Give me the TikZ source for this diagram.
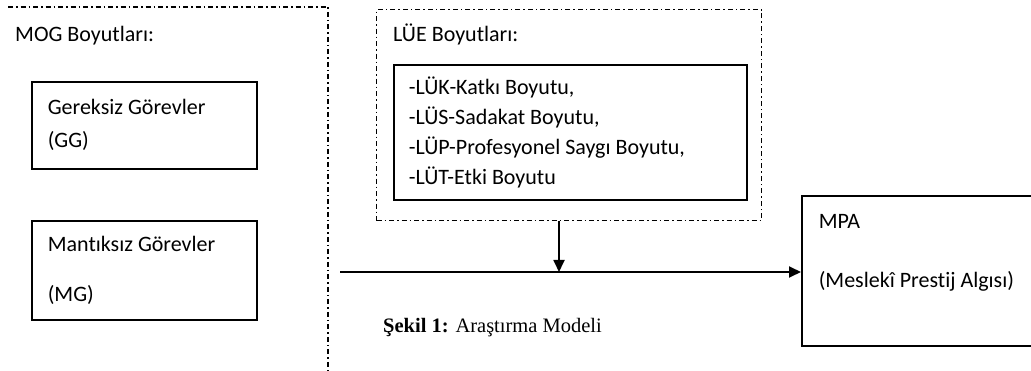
\documentclass[tikz,border=0pt]{standalone}
\usepackage{fontspec}
\setmainfont{Carlito}[Ligatures=NoCommon]
\newfontfamily\capfont{Liberation Serif}
\usetikzlibrary{arrows.meta}

\tikzset{
  kutu/.style={draw, line width=1.6pt, anchor=north west, align=left, inner xsep=16pt, inner ysep=0pt,
    execute at begin node={\spaceskip=0pt\xspaceskip=0pt\relax}},
  cerceve/.style={line width=1.3pt, dash pattern=on 5pt off 3pt on 1.5pt off 3pt},
  yazi/.style={anchor=base west, inner sep=0pt},
  ok/.style={-{Triangle[length=12pt,width=11pt]}, line width=1.8pt},
}

\begin{document}
\begin{tikzpicture}[x=1pt,y=-1pt,font=\fontsize{22}{27}\selectfont]
\useasboundingbox (0,0) rectangle (1031,371);
% MOG boyutlari
\draw[cerceve] (8,7) -- (328,7) -- (328,375);
\node[yazi] (mog) at (15,42) {MOG Boyutları:};
\node[kutu, minimum width=225pt, minimum height=87pt, text width=193pt] (gg) at (31,81) {Gereksiz Görevler\\[6pt](GG)};
\node[kutu, minimum width=225pt, minimum height=99pt, text width=193pt] (mg) at (31,220) {Mantıksız Görevler\\[23pt](MG)};
% LUE boyutlari
\node[draw, cerceve, anchor=north west, minimum width=385pt, minimum height=211pt, inner sep=0pt] (lue) at (376,9) {};
\node[yazi] (luebaslik) at (393,42) {LÜE Boyutları:};
\node[kutu, minimum width=353pt, minimum height=135pt, text width=323pt, inner xsep=15pt, yshift=-4pt] (lueliste) at (393,60)
  {-LÜK-Katkı Boyutu,\\[3pt]-LÜS-Sadakat Boyutu,\\[3pt]-LÜP-Profesyonel Saygı Boyutu,\\[3pt]-LÜT-Etki Boyutu};
% MPA
\node[kutu, minimum width=260pt, minimum height=150pt, text width=226pt, inner xsep=17pt, text depth=98pt] (mpa) at (801,195)
  {MPA\\[32pt](Meslekî Prestij Algısı)};
% oklar
\coordinate (bas) at (340,272);
\coordinate (kesisim) at (559,272);
\draw[ok] (bas) -- (bas -| mpa.west);
\draw[ok] (kesisim |- lue.south) -- (kesisim);
\node[yazi, font=\capfont\fontsize{20.5}{24}\selectfont] (sekil) at (383,333) {\textbf{Şekil 1:} Araştırma Modeli};
\end{tikzpicture}
\end{document}
